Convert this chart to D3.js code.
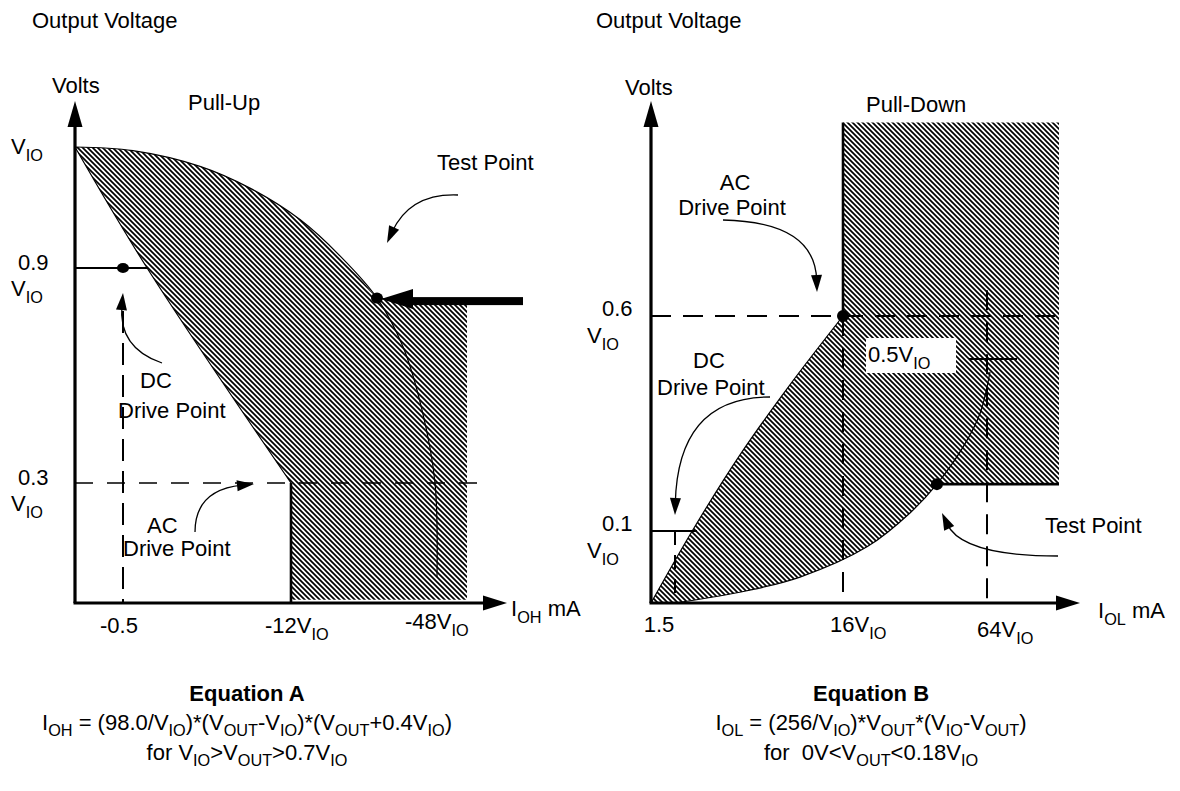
<!DOCTYPE html>
<html><head><meta charset="utf-8">
<script src="https://cdn.jsdelivr.net/npm/d3@7"></script>
<style>
body{margin:0;background:#fff}
text{font-family:"Liberation Sans",Arial,Helvetica,sans-serif;fill:#000}
</style>
</head><body>
<svg id="c" width="1180" height="791"></svg>
<script>
// ---------------- DATA ----------------
// Pull-Up (left), x = I_OH in mA (V_IO = 1 units), y = V_OUT / V_IO
const pullUpCurve = [[0,1.0],[-1.18,0.997],[-5.77,0.984],[-9.19,0.966],[-14.25,0.940],[-24.25,0.910],[-33.5,0.816],[-40,0.68],[-44.75,0.504],[-48,0.3],[-48.5,0.065]];
const pullUpTestIndex = 6;
const pullUpLoadLine = [[0,1.0],[-2.15,0.9],[-12,0.3]];
const pullUpTestPoint = [-33.5,0.816];
const pullUpDCPoint = [-0.5,0.9];
const pullUpACPoint = [-12,0.3];
const pullUpLimitI = -56;
const leftXTicks = [-0.5,-12,-48];
const leftXTickLabels = ["-0.5","-12V_{IO}","-48V_{IO}"];
const leftYTicks = [1.0,0.9,0.3];
const leftYTickLabels = ["","0.9","0.3"];

// Pull-Down (right), x = I_OL in mA, y = V_OUT / V_IO
const pullDownLoadLine = [[0,0],[3.14,0.107],[7.11,0.277],[11.42,0.44],[16,0.6]];
const pullDownCurve = [[1.5,0],[7.71,0.017],[12.29,0.036],[24,0.078],[38.33,0.142],[47.3,0.209],[56,0.295],[61.7,0.374],[65,0.47]];
const pullDownTestIndex = 5;
const pullDownTestPoint = [47.3,0.209];
const pullDownACPoint = [16,0.6];
const pullDownDCPoint = [1.5,0.1];
const pullDownLimitI = 88;
const pullDownTopV = 1.05;
const rightXTicks = [1.5,16,64];
const rightXTickLabels = ["1.5","16V_{IO}","64V_{IO}"];
const rightYTicks = [0.6,0.1];
const rightYTickLabels = ["0.6","0.1"];

const eqATitle = "Equation A";
const eqALines = ["I_{OH} = (98.0/V_{IO})*(V_{OUT}-V_{IO})*(V_{OUT}+0.4V_{IO})","for V_{IO}>V_{OUT}>0.7V_{IO}"];
const eqBTitle = "Equation B";
const eqBLines = ["I_{OL} = (256/V_{IO})*V_{OUT}*(V_{IO}-V_{OUT})","for\u00A0 0V<V_{OUT}<0.18V_{IO}"];

// ---------------- DRAW ----------------
const svg = d3.select("#c");
const FS = 22;
const defs = svg.append("defs");
defs.append("pattern").attr("id","hatch").attr("patternUnits","userSpaceOnUse")
  .attr("width",5).attr("height",5)
  .append("path").attr("d","M-1,-1L6,6M-1,4L1,6M4,-1L6,1")
  .attr("stroke","#000").attr("stroke-width",1.7);

function rich(g, x, y, s, o={}) {
  const size = o.size || FS;
  const t = g.append("text").attr("font-size",size)
    .attr("text-anchor",o.anchor||"start").attr("font-weight",o.weight||"normal")
    .attr("transform",`translate(${x},${y}) scale(${o.sx||1},1)`);
  const parts = s.split(/(_\{[^}]*\})/);
  let sub = false;
  const sh = size*(o.subShift||0.33);
  parts.forEach(p=>{
    if(!p) return;
    if(p.startsWith("_{")){
      t.append("tspan").attr("font-size",size*0.74).attr("dy",sh).text(p.slice(2,-1));
      sub = true;
    } else {
      const ts = t.append("tspan").text(p);
      if(sub){ ts.attr("dy",-sh); sub=false; }
    }
  });
  return t;
}
function arrowHead(g, tip, from, len=17, hw=5.5) {
  const dx=tip[0]-from[0], dy=tip[1]-from[1], d=Math.hypot(dx,dy);
  const ux=dx/d, uy=dy/d, bx=tip[0]-ux*len, by=tip[1]-uy*len;
  g.append("path").attr("d",`M${tip[0]},${tip[1]}L${bx-uy*hw},${by+ux*hw}L${bx+uy*hw},${by-ux*hw}Z`).attr("fill","#000");
}
function curvedArrow(g, p0, c, p1) {
  const dx=p1[0]-c[0], dy=p1[1]-c[1], d=Math.hypot(dx,dy);
  const e=[p1[0]-dx/d*12, p1[1]-dy/d*12];
  g.append("path").attr("d",`M${p0[0]},${p0[1]}Q${c[0]},${c[1]} ${e[0]},${e[1]}`)
    .attr("fill","none").attr("stroke","#000").attr("stroke-width",1.3);
  arrowHead(g,p1,c);
}
function line(g, x1,y1,x2,y2, w, dash){
  const l = g.append("line").attr("x1",x1).attr("y1",y1).attr("x2",x2).attr("y2",y2)
    .attr("stroke","#000").attr("stroke-width",w);
  if(dash) l.attr("stroke-dasharray",dash);
  return l;
}
const smooth = d3.line().curve(d3.curveCatmullRom.alpha(0.5));

// ===== LEFT: Pull-Up =====
const xL = d3.scaleLinear().domain([0,-0.5,-12,-48]).range([75,123,291,435]);
const yL = d3.scaleLinear().domain([0,0.3,0.9,1.0]).range([603,483,268,147]);
const gL = svg.append("g");
const ptL = d => [xL(d[0]), yL(d[1])];

{
  const top = pullUpCurve.slice(0,pullUpTestIndex+1);
  const pts = [[pullUpLimitI,pullUpTestPoint[1]], [pullUpLimitI,0.008], [pullUpACPoint[0],0.008], pullUpACPoint];
  const upper = smooth(top.map(ptL));
  const rest = pts.map(ptL).map(p=>`L${p[0]},${p[1]}`).join("");
  const back = smooth(pullUpLoadLine.slice().reverse().map(ptL));
  gL.append("path").attr("d", upper + rest + "L" + back.slice(1) + "Z").attr("fill","url(#hatch)");
}
gL.append("path").attr("d", smooth(pullUpCurve.map(ptL)))
  .attr("fill","none").attr("stroke","#000").attr("stroke-width",1.2);
gL.append("path").attr("d", smooth(pullUpLoadLine.map(ptL)))
  .attr("fill","none").attr("stroke","#000").attr("stroke-width",1.2);
line(gL, xL(pullUpACPoint[0]), yL(pullUpACPoint[1]), xL(pullUpACPoint[0]), yL(0), 2.6);
line(gL, xL(0), yL(0.3), xL(-60), yL(0.3), 1.6, "18,14");
line(gL, xL(-0.5), yL(0.78), xL(-0.5), yL(0), 2, "22,10");
line(gL, xL(0), yL(0.9), xL(-2.2), yL(0.9), 2);
gL.append("ellipse").attr("cx",xL(pullUpDCPoint[0])).attr("cy",yL(pullUpDCPoint[1])).attr("rx",6).attr("ry",5);
gL.append("ellipse").attr("cx",xL(pullUpTestPoint[0])).attr("cy",yL(pullUpTestPoint[1])).attr("rx",6).attr("ry",5.5);
line(gL, xL(0), yL(0), xL(0), yL(1.038)+20, 3.2);
arrowHead(gL, [xL(0), yL(1.038)], [xL(0), yL(0)], 26, 7.5);
line(gL, xL(0)-1.5, yL(0), xL(-66)-18, yL(0), 3.2);
arrowHead(gL, [xL(-66), yL(0)], [xL(0), yL(0)], 24, 7.5);
{
  const tip = [xL(pullUpTestPoint[0])+4, yL(pullUpTestPoint[1])+1];
  gL.append("rect").attr("x",tip[0]+28).attr("y",tip[1]-2).attr("width",xL(-70)-tip[0]-28).attr("height",8);
  gL.append("path").attr("d",`M${tip[0]},${tip[1]}L${tip[0]+32},${tip[1]-10}L${tip[0]+32},${tip[1]+10}Z`);
}
rich(gL, 32, 28, "Output Voltage");
rich(gL, 52, 93, "Volts");
rich(gL, 188, 110, "Pull-Up");
rich(gL, 11, yL(1.0)+7, "V_{IO}");
leftYTicks.forEach((v,i)=>{
  if(!leftYTickLabels[i]) return;
  rich(gL, 18, yL(v)+2, leftYTickLabels[i]);
  rich(gL, 11, yL(v)+28, "V_{IO}");
});
const lxOff = [-4,-26,-30];
leftXTicks.forEach((v,i)=>{
  rich(gL, xL(v)+lxOff[i], 633 - (i===2?4:0), leftXTickLabels[i], {anchor: i===0?"middle":"start"});
});
rich(gL, 511, 616, "I_{OH} mA");
rich(gL, 437, 170, "Test Point");
curvedArrow(gL, [458,195], [410,193], [387,243]);
rich(gL, 140, 388, "DC");
rich(gL, 118, 418, "Drive Point");
curvedArrow(gL, [162,363], [118,348], [123,293]);
rich(gL, 147, 533, "AC");
rich(gL, 123, 556, "Drive Point");
curvedArrow(gL, [195,532], [195,490], [254,484]);

// ===== RIGHT: Pull-Down =====
const xR = d3.scaleLinear().domain([0,1.5,16,64]).range([651,675,843,987]);
const yR = d3.scaleLinear().domain([0,0.1,0.6]).range([603,531,316]);
const gR = svg.append("g");
const ptR = d => [xR(d[0]), yR(d[1])];
{
  const load = smooth(pullDownLoadLine.map(ptR));
  const lowPart = pullDownCurve.slice(0,pullDownTestIndex+1).map(ptR).reverse();
  const corners = [[pullDownACPoint[0],pullDownTopV],[pullDownLimitI,pullDownTopV],[pullDownLimitI,pullDownTestPoint[1]]].map(ptR);
  const low = smooth(lowPart);
  const d = load + corners.map(p=>`L${p[0]},${p[1]}`).join("") + "L" + low.slice(1) + `L${xR(0)},${yR(0)}Z`;
  gR.append("path").attr("d",d).attr("fill","url(#hatch)");
}
gR.append("rect").attr("x",866).attr("y",yR(0.5)-21).attr("width",90).attr("height",35).attr("fill","#fff");
gR.append("path").attr("d", smooth(pullDownLoadLine.map(ptR)))
  .attr("fill","none").attr("stroke","#000").attr("stroke-width",1.2);
gR.append("path").attr("d", smooth(pullDownCurve.map(ptR)))
  .attr("fill","none").attr("stroke","#000").attr("stroke-width",1.2);
line(gR, xR(16), yR(pullDownTopV), xR(16), yR(0.6), 2.6);
line(gR, xR(pullDownTestPoint[0]), yR(pullDownTestPoint[1]), xR(pullDownLimitI), yR(pullDownTestPoint[1]), 2.6);
line(gR, xR(0), yR(0.6), xR(pullDownLimitI), yR(0.6), 2, "20,12");
line(gR, xR(16), yR(0.6), xR(16), yR(0), 2, "20,12");
line(gR, xR(64), yR(0.66), xR(64), yR(0), 2, "20,12");
line(gR, xR(1.5), yR(0.1), xR(1.5), yR(0), 2, "14,10");
line(gR, xR(58), yR(0.5), xR(74), yR(0.5), 2);
line(gR, xR(0), yR(0.1), xR(3.4), yR(0.1), 2);
gR.append("circle").attr("cx",xR(pullDownACPoint[0])).attr("cy",yR(pullDownACPoint[1])).attr("r",6);
gR.append("circle").attr("cx",xR(pullDownTestPoint[0])).attr("cy",yR(pullDownTestPoint[1])).attr("r",6);
line(gR, xR(0), yR(0), xR(0), yR(1.1)+20, 3.2);
arrowHead(gR, [xR(0), yR(1.1)], [xR(0), yR(0)], 26, 7.5);
line(gR, xR(0)-1.5, yR(0), xR(95)-18, yR(0), 3.2);
arrowHead(gR, [xR(95), yR(0)], [xR(0), yR(0)], 24, 7.5);
rich(gR, 596, 28, "Output Voltage");
rich(gR, 625, 95, "Volts");
rich(gR, 866, 112, "Pull-Down");
rich(gR, 735, 190, "AC", {anchor:"middle"});
rich(gR, 732, 215, "Drive Point", {anchor:"middle"});
curvedArrow(gR, [723,220], [815,222], [817,292]);
rightYTicks.forEach((v,i)=>{
  rich(gR, 602, yR(v), rightYTickLabels[i]);
  rich(gR, 587, yR(v)+27, "V_{IO}");
});
rich(gR, 693, 368, "DC");
rich(gR, 657, 395, "Drive Point");
curvedArrow(gR, [770,397], [678,397], [675,515]);
rich(gR, 868, yR(0.5)+3, "0.5V_{IO}");
const rxOff = [-16,-13,-10];
rightXTicks.forEach((v,i)=>{
  rich(gR, xR(v)+rxOff[i], 632 + (i===2?5:0), rightXTickLabels[i], {anchor: i===0?"middle":"start"});
});
rich(gR, 1098, 618, "I_{OL} mA");
rich(gR, 1045, 533, "Test Point");
curvedArrow(gR, [1058,556], [962,556], [942,513]);

// ===== Equations =====
const eqOpt = {anchor:"middle", subShift:0.25};
rich(svg, 247, 701, eqATitle, {anchor:"middle", weight:"bold"});
eqALines.forEach((s,i)=> rich(svg, 247, 730+i*30, s, eqOpt));
rich(svg, 871, 701, eqBTitle, {anchor:"middle", weight:"bold"});
eqBLines.forEach((s,i)=> rich(svg, 871, 730+i*30, s, eqOpt));
</script>
</body></html>
